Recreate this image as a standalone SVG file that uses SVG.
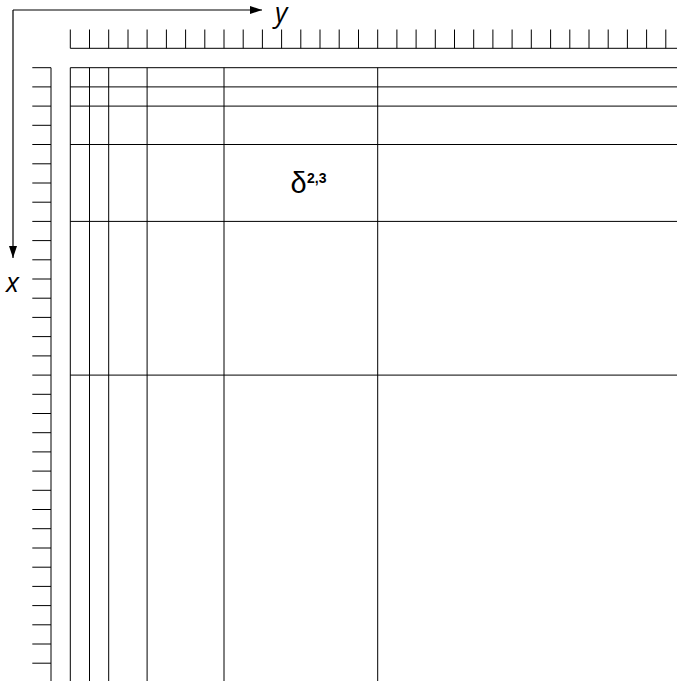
<svg xmlns="http://www.w3.org/2000/svg" width="677" height="681" viewBox="0 0 677 681">
<defs>
<style>
.ln{stroke:#000;stroke-width:1;fill:none}
.ax{stroke:#000;stroke-width:1.2;fill:none}
.lbl{font-family:"Open Sans","Liberation Sans",Arial,sans-serif;font-style:italic;font-size:27px;fill:#000}
.dl{font-family:"Liberation Sans",Arial,sans-serif;font-size:29px;fill:#000}
.sup{font-family:"Liberation Sans",Arial,sans-serif;font-size:14px;font-weight:bold;fill:#000}
</style>
<marker id="ah" markerWidth="12" markerHeight="8" refX="12" refY="4" orient="auto" markerUnits="userSpaceOnUse">
<path d="M0,0 L12,4 L0,8 Z" fill="#000"/>
</marker>
</defs>
<rect width="677" height="681" fill="#fff"/>
<g id="axes">
<line class="ax" x1="13" y1="10" x2="262" y2="10" marker-end="url(#ah)"/>
<line class="ax" x1="13" y1="10" x2="13" y2="258" marker-end="url(#ah)"/>
<text class="lbl" x="275" y="22">y</text>
<text class="lbl" x="6" y="292">x</text>
</g>
<g id="top-ruler" class="ln">
<line x1="70.3" y1="48.3" x2="677" y2="48.3"/>
<path d="M70.3,29.5V48.3M89.5,29.5V48.3M108.7,29.5V48.3M128,29.5V48.3M147.1,29.5V48.3M166.4,29.5V48.3M185.6,29.5V48.3M204.8,29.5V48.3M224,29.5V48.3M243.2,29.5V48.3M262.4,29.5V48.3M281.6,29.5V48.3M300.8,29.5V48.3M320,29.5V48.3M339.2,29.5V48.3M358.5,29.5V48.3M377.7,29.5V48.3M396.9,29.5V48.3M416.1,29.5V48.3M435.3,29.5V48.3M454.5,29.5V48.3M473.7,29.5V48.3M492.9,29.5V48.3M512.1,29.5V48.3M531.3,29.5V48.3M550.6,29.5V48.3M569.8,29.5V48.3M589,29.5V48.3M608.2,29.5V48.3M627.4,29.5V48.3M646.6,29.5V48.3M665.8,29.5V48.3"/>
</g>
<g id="left-ruler" class="ln">
<line x1="51" y1="67.7" x2="51" y2="681"/>
<path d="M32.3,67.7H51M32.3,86.9H51M32.3,106.1H51M32.3,125.3H51M32.3,144.5H51M32.3,163.8H51M32.3,183H51M32.3,202.2H51M32.3,221.4H51M32.3,240.6H51M32.3,259.8H51M32.3,279H51M32.3,298.2H51M32.3,317.4H51M32.3,336.6H51M32.3,355.9H51M32.3,375.1H51M32.3,394.3H51M32.3,413.5H51M32.3,432.7H51M32.3,451.9H51M32.3,471.1H51M32.3,490.3H51M32.3,509.5H51M32.3,528.7H51M32.3,548H51M32.3,567.2H51M32.3,586.4H51M32.3,605.6H51M32.3,624.8H51M32.3,644H51M32.3,663.2H51"/>
</g>
<g id="grid" class="ln">
<path d="M70.3,67.7H677M70.3,86.9H677M70.3,106.1H677M70.3,144.5H677M70.3,221.4H677M70.3,375.1H677"/>
<path d="M70.3,67.7V681M89.5,67.7V681M108.7,67.7V681M147.1,67.7V681M224,67.7V681M377.7,67.7V681"/>
</g>
<g id="delta-label">
<text class="dl" x="290.5" y="193">δ</text>
<text class="sup" x="307" y="183">2,3</text>
</g>
</svg>
